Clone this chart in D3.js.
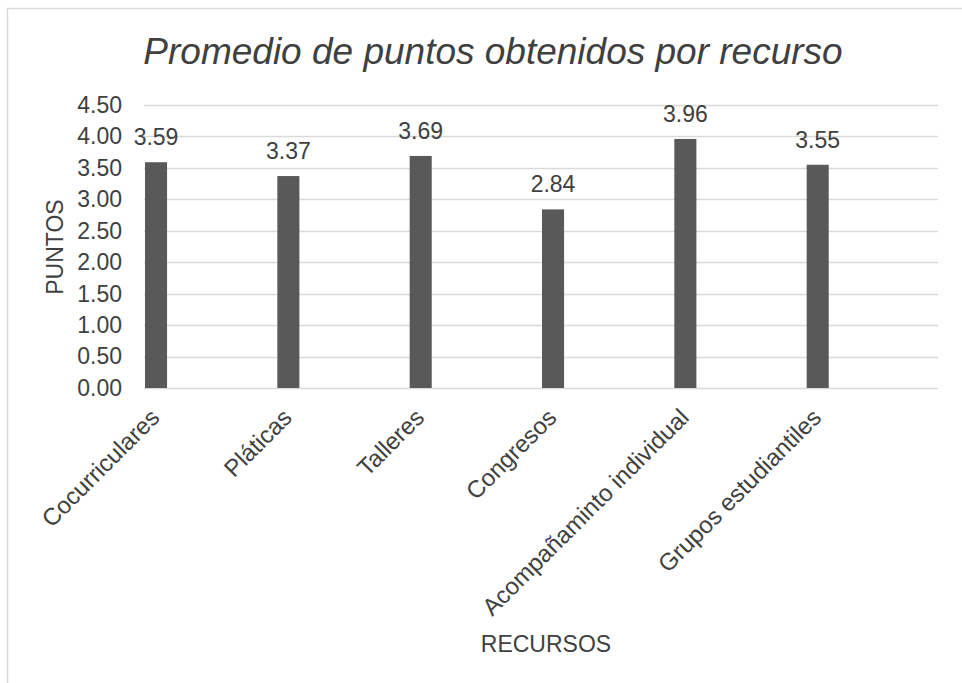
<!DOCTYPE html>
<html>
<head>
<meta charset="utf-8">
<script src="https://cdn.jsdelivr.net/npm/d3@7"></script>
<style>
  html, body { margin: 0; padding: 0; background: #ffffff; }
  svg { display: block; font-family: "Liberation Sans", Arial, sans-serif; }
</style>
</head>
<body>
<svg id="chart" width="962" height="683"></svg>
<script>
// Average points per resource
const categories = ["Cocurriculares", "Pláticas", "Talleres", "Congresos", "Acompañaminto individual", "Grupos estudiantiles"];
const values = [3.59, 3.37, 3.69, 2.84, 3.96, 3.55];
const yTicks = [0, 0.5, 1, 1.5, 2, 2.5, 3, 3.5, 4, 4.5];

const titleText = "Promedio de puntos obtenidos por recurso";
const yTitle = "PUNTOS";
const xTitle = "RECURSOS";

const svg = d3.select("#chart");
const W = 962, H = 683;
const plot = { left: 144, right: 938, top: 105, bottom: 388 };
const textColor = "#404040";
const fs = 23;

// chart frame
svg.append("rect")
  .attr("x", 7.5).attr("y", 8.5)
  .attr("width", W).attr("height", H)
  .attr("fill", "#ffffff")
  .attr("stroke", "#d9d9d9").attr("stroke-width", 1.5);

const x = d3.scaleBand().domain(categories).range([plot.left, plot.right]).padding(0);
const y = d3.scaleLinear().domain([0, 4.5]).range([plot.bottom, plot.top]);

const barW = x.bandwidth() / 6;
const barX = d => x(d) + 1;
const barCenter = d => barX(d) + barW / 2;

// gridlines
svg.append("g")
  .selectAll("line")
  .data(yTicks)
  .join("line")
  .attr("x1", plot.left).attr("x2", plot.right)
  .attr("y1", d => Math.round(y(d)) + 0.5).attr("y2", d => Math.round(y(d)) + 0.5)
  .attr("stroke", "#d9d9d9").attr("stroke-width", 1.5);

// y axis labels
const yAxis = d3.axisLeft(y).tickValues(yTicks).tickFormat(d3.format(".2f")).tickSize(0).tickPadding(22);
const yg = svg.append("g").attr("transform", `translate(${plot.left},0)`).call(yAxis);
yg.select(".domain").remove();
yg.selectAll("text")
  .attr("font-size", fs)
  .attr("font-family", "Liberation Sans, Arial, sans-serif")
  .attr("fill", textColor);

// bars
svg.append("g")
  .selectAll("rect")
  .data(categories)
  .join("rect")
  .attr("x", d => barX(d))
  .attr("width", barW)
  .attr("y", (d, i) => y(values[i]))
  .attr("height", (d, i) => y(0) - y(values[i]))
  .attr("fill", "#595959");

// value labels
svg.append("g")
  .selectAll("text")
  .data(categories)
  .join("text")
  .attr("x", d => barCenter(d))
  .attr("y", (d, i) => y(values[i]) - 17)
  .attr("text-anchor", "middle")
  .attr("font-size", fs)
  .attr("fill", textColor)
  .text((d, i) => values[i].toFixed(2));

// category labels (rotated)
svg.append("g")
  .selectAll("text")
  .data(categories)
  .join("text")
  .attr("transform", d => `translate(${barCenter(d) + 5},${plot.bottom + 31}) rotate(-45)`)
  .attr("text-anchor", "end")
  .attr("font-size", 24)
  .attr("fill", textColor)
  .text(d => d);

// title
svg.append("text")
  .attr("x", 493).attr("y", 64)
  .attr("text-anchor", "middle")
  .attr("font-size", 37)
  .attr("font-style", "italic")
  .attr("fill", textColor)
  .text(titleText);

// axis titles
svg.append("text")
  .attr("transform", `translate(63,247) rotate(-90)`)
  .attr("text-anchor", "middle")
  .attr("font-size", fs)
  .attr("fill", textColor)
  .text(yTitle);

svg.append("text")
  .attr("x", 546).attr("y", 652)
  .attr("text-anchor", "middle")
  .attr("font-size", fs)
  .attr("fill", textColor)
  .text(xTitle);
</script>
</body>
</html>
